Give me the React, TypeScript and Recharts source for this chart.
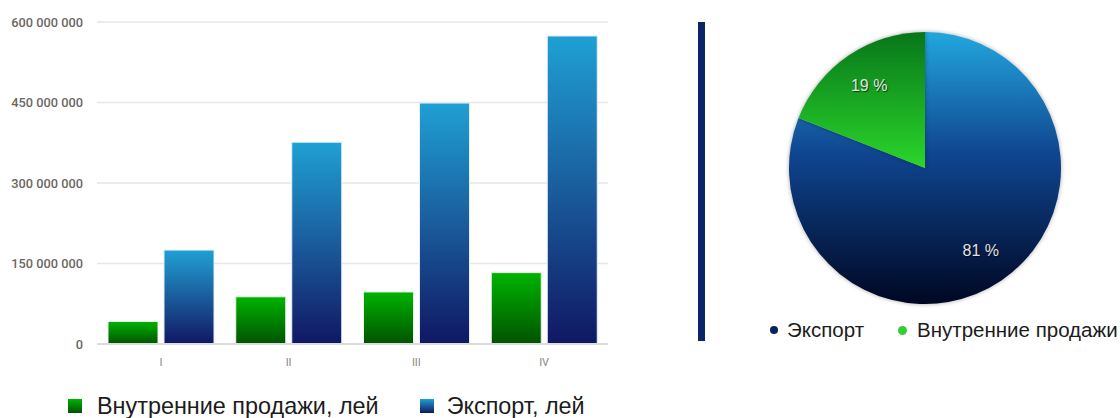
import React from 'react';
import { BarChart, Bar, XAxis, YAxis, CartesianGrid, PieChart, Pie, Cell } from 'recharts';

const quarters = ['I', 'II', 'III', 'IV'];
const domesticSales = [42000000, 88000000, 97000000, 133000000];
const exportSales = [175000000, 376000000, 449000000, 574000000];
const yTicks = [0, 150000000, 300000000, 450000000, 600000000];

const barSeries = ['Внутренние продажи, лей', 'Экспорт, лей'];
const shareNames = ['Экспорт', 'Внутренние продажи'];
const shareValues = [81, 19];

const barData = quarters.map((q, i) => ({ quarter: q, domestic: domesticSales[i], export: exportSales[i] }));
const pieData = shareNames.map((name, i) => ({ name, value: shareValues[i] }));

const fmt = (v: number) => String(v).replace(/\B(?=(\d{3})+(?!\d))/g, ' ');

const RAD = Math.PI / 180;
const pieLabel = (p: any) => {
  const r = p.outerRadius * 0.73;
  const x = p.cx + r * Math.cos(-p.midAngle * RAD);
  const y = p.cy + r * Math.sin(-p.midAngle * RAD);
  return (
    <text x={x} y={y} fill="#e2e2e2" fontSize={16} fontFamily="Liberation Sans, Arial, sans-serif"
      textAnchor="middle" dominantBaseline="central" style={{ textShadow: '1px 1px 1px rgba(0,0,0,0.6)' }}>
      {p.value} %
    </text>
  );
};

const legendText: React.CSSProperties = { fontFamily: 'Liberation Sans, Arial, sans-serif', color: '#1c1c1c' };

export default function App() {
  return (
    <div style={{ position: 'absolute', left: 0, top: 0, width: 1120, height: 418, background: '#fff', overflow: 'hidden' }}>
      <div style={{ position: 'absolute', left: 0, top: 0 }}>
        <BarChart width={620} height={418} data={barData} margin={{ top: 22, right: 12, left: 0, bottom: 44 }}
          barCategoryGap={11} barGap={6}>
          <defs>
            <linearGradient id="gGreen" x1="0" y1="0" x2="0" y2="1">
              <stop offset="0%" stopColor="#00b400" />
              <stop offset="100%" stopColor="#005200" />
            </linearGradient>
            <linearGradient id="gBlue" x1="0" y1="0" x2="0" y2="1">
              <stop offset="0%" stopColor="#1fa0d4" />
              <stop offset="50%" stopColor="#1a5c9c" />
              <stop offset="100%" stopColor="#101763" />
            </linearGradient>
          </defs>
          <CartesianGrid vertical={false} stroke="#e6e6e6" strokeWidth={1.5} />
          <XAxis dataKey="quarter" height={30} axisLine={{ stroke: '#dcdcdc', strokeWidth: 2 }} tickLine={false}
            tickSize={6} tickMargin={8}
            tick={{ fill: '#8a8784', fontSize: 11, fontFamily: 'Roboto, sans-serif' }} />
          <YAxis width={97} domain={[0, 600000000]} ticks={yTicks} tickFormatter={fmt} axisLine={false} tickLine={false}
            tickSize={6} tickMargin={8}
            tick={{ fill: '#6b6762', fontSize: 12.8, fontFamily: 'Roboto, sans-serif', fontWeight: 500 }} />
          <Bar dataKey="domestic" name={barSeries[0]} fill="url(#gGreen)" stroke="#e9f3ea" strokeWidth={1} isAnimationActive={false} />
          <Bar dataKey="export" name={barSeries[1]} fill="url(#gBlue)" stroke="#e6eef5" strokeWidth={1} isAnimationActive={false} />
        </BarChart>
      </div>

      <div style={{ position: 'absolute', left: 68, top: 392, display: 'flex', alignItems: 'center', height: 28 }}>
        <div style={{ width: 14, height: 14, background: 'linear-gradient(#00b400, #005200)' }} />
        <span style={{ ...legendText, fontSize: 23.4, marginLeft: 15 }}>{barSeries[0]}</span>
        <div style={{ width: 14, height: 14, marginLeft: 41, background: 'linear-gradient(#1fa0d4, #101763)' }} />
        <span style={{ ...legendText, fontSize: 23.4, marginLeft: 13 }}>{barSeries[1]}</span>
      </div>

      <div style={{ position: 'absolute', left: 698, top: 22, width: 7, height: 319, background: '#0b2566' }} />

      <div style={{ position: 'absolute', left: 690, top: 0 }}>
        <PieChart width={430} height={418} margin={{ top: 0, right: 0, bottom: 0, left: 0 }}>
          <defs>
            <linearGradient id="pBlue" x1="0" y1="0" x2="0" y2="1">
              <stop offset="0%" stopColor="#22a7dd" />
              <stop offset="45%" stopColor="#0f4590" />
              <stop offset="100%" stopColor="#000722" />
            </linearGradient>
            <linearGradient id="pGreen" x1="0" y1="0" x2="0" y2="1">
              <stop offset="0%" stopColor="#07761a" />
              <stop offset="100%" stopColor="#2bd62b" />
            </linearGradient>
          </defs>
          <Pie data={pieData} dataKey="value" nameKey="name" cx={235} cy={168} outerRadius={136}
            startAngle={90} endAngle={-270} stroke="none" label={pieLabel} labelLine={false}
            isAnimationActive={false} style={{ filter: 'drop-shadow(0 0 2px rgba(0,0,0,0.35))' }}>
            <Cell fill="url(#pBlue)" />
            <Cell fill="url(#pGreen)" />
          </Pie>
        </PieChart>
      </div>

      <div style={{ position: 'absolute', left: 770, top: 317, display: 'flex', alignItems: 'center', height: 26 }}>
        <div style={{ width: 8, height: 8, borderRadius: 4, background: '#0a2160' }} />
        <span style={{ ...legendText, fontSize: 20.5, marginLeft: 9 }}>{shareNames[0]}</span>
        <div style={{ width: 9, height: 9, borderRadius: 5, marginLeft: 34, background: '#2fd02f' }} />
        <span style={{ ...legendText, fontSize: 20.5, marginLeft: 10 }}>{shareNames[1]}</span>
      </div>
    </div>
  );
}
